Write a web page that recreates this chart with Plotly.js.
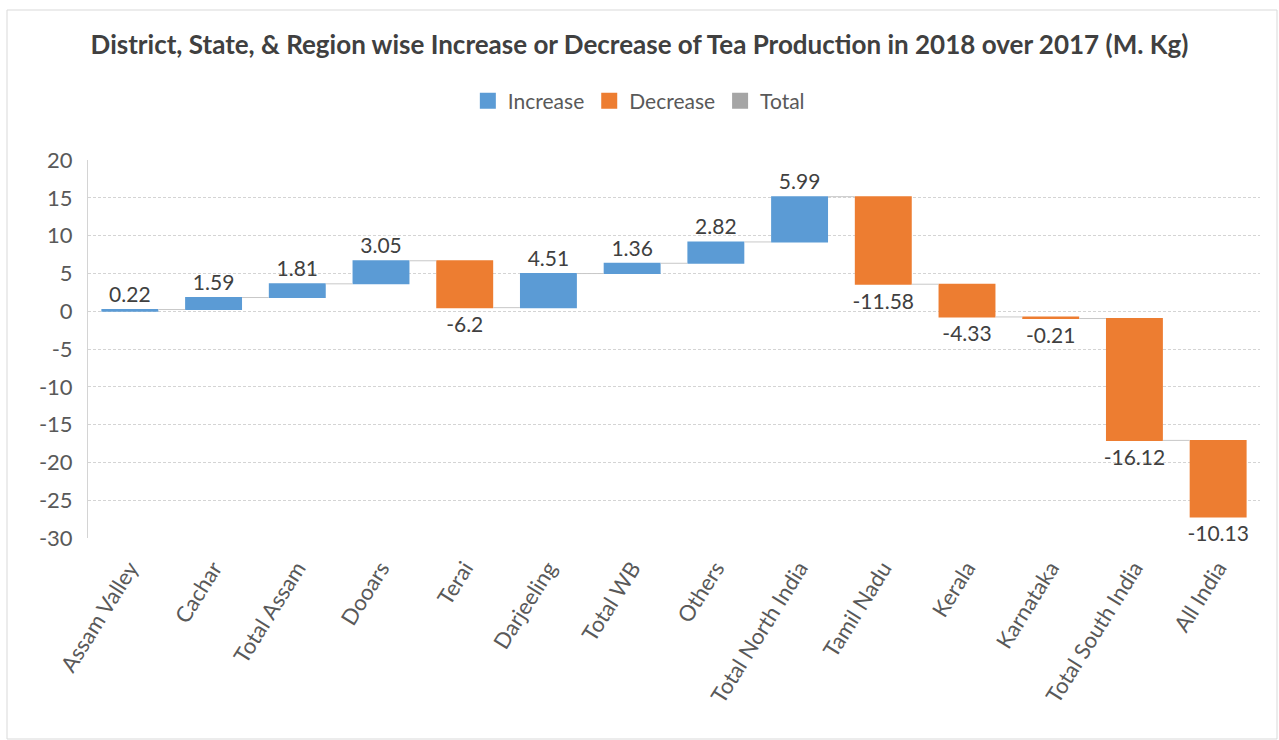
<!DOCTYPE html>
<html>
<head>
<meta charset="utf-8">
<script src="https://cdn.plot.ly/plotly-3.0.1.min.js"></script>
<style>
  html, body { margin: 0; padding: 0; background: #fff; }
  #chart { width: 1279px; height: 740px; }
</style>
</head>
<body>
<div id="chart"></div>
<script>
const categories = ['Assam Valley', 'Cachar', 'Total Assam', 'Dooars', 'Terai', 'Darjeeling',
  'Total WB', 'Others', 'Total North India', 'Tamil Nadu', 'Kerala', 'Karnataka',
  'Total South India', 'All India'];
const changes = [0.22, 1.59, 1.81, 3.05, -6.2, 4.51, 1.36, 2.82, 5.99, -11.58, -4.33, -0.21, -16.12, -10.13];
const yTicks = [20, 15, 10, 5, 0, -5, -10, -15, -20, -25, -30];

const FONT = 'Lato, "Open Sans", sans-serif';
const BLUE = '#5b9bd5';
const ORANGE = '#ed7d31';
const GREY = '#a5a5a5';

const waterfall = {
  type: 'waterfall',
  x: categories,
  y: changes,
  measure: changes.map(() => 'relative'),
  text: changes.map(v => String(v)),
  textposition: 'outside',
  constraintext: 'none',
  cliponaxis: false,
  textfont: {family: FONT, size: 21, color: '#404040'},
  increasing: {marker: {color: BLUE}},
  decreasing: {marker: {color: ORANGE}},
  totals: {marker: {color: GREY}},
  connector: {mode: 'between', line: {color: '#c8c8c8', width: 1}},
  width: 0.68,
  showlegend: false,
  hoverinfo: 'x+y'
};

// legend-only entries, matching the three Excel waterfall legend items
function legendItem(name, color) {
  return {
    type: 'scatter', mode: 'markers', name: name, x: [null], y: [null],
    marker: {symbol: 'square', size: 20, color: color}
  };
}

const layout = {
  width: 1279,
  height: 740,
  margin: {l: 88, r: 19, t: 160, b: 202},
  paper_bgcolor: '#fff',
  plot_bgcolor: '#fff',
  font: {family: FONT, color: '#595959'},
  title: {
    text: '<b>District, State, & Region wise Increase or Decrease of Tea Production in 2018 over 2017 (M. Kg)</b>',
    font: {family: FONT, size: 26, color: '#404040'},
    x: 0.5, xref: 'container', xanchor: 'center',
    y: 1 - 45 / 740, yref: 'container', yanchor: 'middle'
  },
  legend: {
    orientation: 'h',
    x: 0.47, xanchor: 'center',
    y: 1.156, yanchor: 'middle',
    font: {family: FONT, size: 21, color: '#595959'},
    itemclick: false, itemdoubleclick: false
  },
  xaxis: {
    type: 'category',
    tickangle: -58,
    tickfont: {family: FONT, size: 22, color: '#595959'},
    ticklabelstandoff: 12,
    showgrid: false,
    showline: false,
    ticks: '',
    zeroline: false
  },
  yaxis: {
    range: [-30, 20],
    tickvals: yTicks,
    ticktext: yTicks.map(String),
    tickfont: {family: FONT, size: 22, color: '#595959'},
    ticklabelstandoff: 10,
    gridcolor: '#d4d4d4',
    griddash: '3px,2px',
    gridwidth: 1,
    showline: true,
    linecolor: '#d4d4d4',
    zeroline: false,
    ticks: '',
    ticklen: 0
  },
  shapes: [{
    type: 'rect', xref: 'paper', yref: 'paper',
    x0: (7 - 88) / 1172, x1: (1277 - 88) / 1172,
    y0: (538 - 739) / 378, y1: (538 - 10) / 378,
    line: {color: '#d9d9d9', width: 1}
  }]
};

Plotly.newPlot('chart',
  [waterfall, legendItem('Increase', BLUE), legendItem('Decrease', ORANGE), legendItem('Total', GREY)],
  layout, {staticPlot: true});
</script>
</body>
</html>
